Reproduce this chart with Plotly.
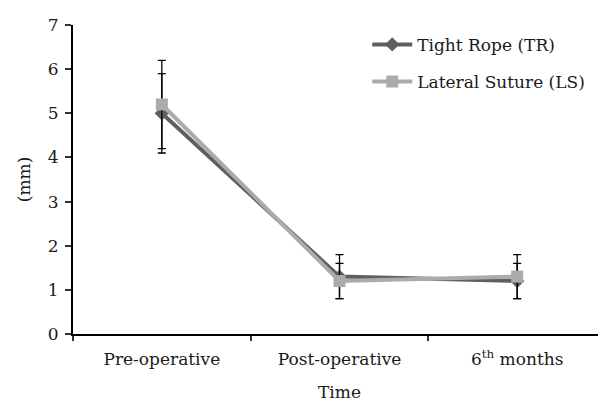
import plotly.graph_objects as go

categories = ["Pre-operative", "Post-operative", "6<sup>th</sup> months"]
tr_values = [5.0, 1.3, 1.2]
tr_errors = [0.9, 0.5, 0.4]
ls_values = [5.2, 1.2, 1.3]
ls_errors = [1.0, 0.4, 0.5]

FONT = "DejaVu Serif"

fig = go.Figure()
fig.add_trace(go.Scatter(
    x=categories, y=tr_values, name="Tight Rope (TR)", mode="lines+markers",
    line=dict(color="#5f5f5f", width=4),
    marker=dict(symbol="diamond", size=11, color="#5f5f5f"),
    error_y=dict(type="data", array=tr_errors, color="black", thickness=1.3, width=4),
    legendgroup="tr",
))
fig.add_trace(go.Scatter(
    x=categories, y=ls_values, name="Lateral Suture (LS)", mode="lines+markers",
    line=dict(color="#ababab", width=4),
    marker=dict(symbol="square", size=12, color="#ababab"),
    error_y=dict(type="data", array=ls_errors, color="black", thickness=1.3, width=4),
    legendgroup="ls",
))

fig.update_layout(
    width=598, height=398,
    margin=dict(l=65, r=0, t=17, b=72, autoexpand=False),
    paper_bgcolor="white", plot_bgcolor="white",
    font=dict(family=FONT, size=17, color="#1a1a1a"),
    showlegend=True,
    legend=dict(x=0.552, y=0.994, xanchor="left", yanchor="top",
                bgcolor="rgba(0,0,0,0)", font=dict(size=17, family=FONT),
                tracegroupgap=12, itemwidth=40),
    xaxis=dict(
        type="category", range=[-0.5, 2.5], tickson="boundaries",
        showline=True, linecolor="black", linewidth=2,
        ticks="outside", ticklen=5, tickwidth=1.5, tickcolor="#333",
        showgrid=False, zeroline=False, automargin=False,
        title=dict(text="Time", standoff=18, font=dict(size=17)),
        tickfont=dict(size=17),
        ticklabelstandoff=9,
    ),
    yaxis=dict(
        range=[0, 7], dtick=1, tick0=0,
        showline=True, linecolor="black", linewidth=2,
        ticks="outside", ticklen=6, tickwidth=1.5, tickcolor="#333",
        showgrid=False, zeroline=False, automargin=False,
        title=dict(text="(mm)", standoff=13, font=dict(size=17)),
        tickfont=dict(size=17),
        ticklabelstandoff=3,
    ),
)

fig.write_html("out.html")
